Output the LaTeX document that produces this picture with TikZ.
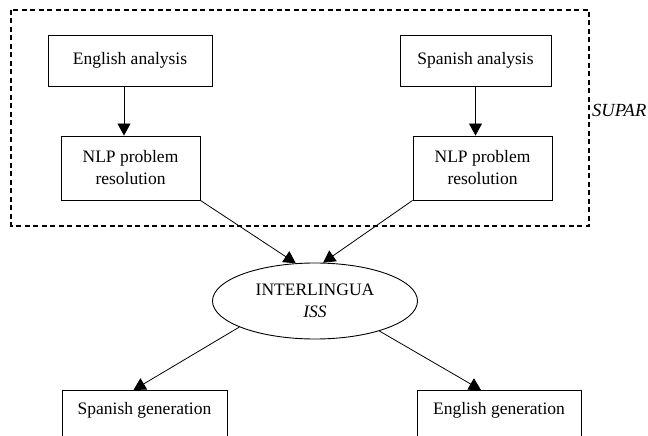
\documentclass[tikz,border=0pt]{standalone}
\usepackage{fontspec}
\setmainfont{Liberation Serif}
\usetikzlibrary{shapes.geometric,arrows.meta}
\begin{document}
\begin{tikzpicture}[x=1pt,y=1pt,
  every node/.style={font=\fontsize{17.5}{22}\selectfont},
  box/.style={draw,line width=0.9pt,inner sep=0pt,align=center},
  arr/.style={line width=0.8pt,-{Triangle[length=12pt,width=13pt]}},
  supar/.style={draw,line width=1.3pt,dash pattern=on 5pt off 3.5pt}]
\useasboundingbox (0,0) rectangle (648,436);
\clip (0,0) rectangle (648,436);
\draw[supar] (11,426) rectangle (589,210);
\node[anchor=west,inner sep=0pt,font=\fontsize{18.5}{22}\selectfont\itshape] (sup) at (592,326) {SUPAR};
\node[box,minimum width=164pt,minimum height=51pt] (EA) at (130,375.5) {English analysis};
\node[box,minimum width=139pt,minimum height=64pt] (NLPL) at (130.5,268) {NLP problem\\resolution};
\node[box,minimum width=151pt,minimum height=51pt] (SA) at (475.5,375.5) {Spanish analysis};
\node[box,minimum width=139pt,minimum height=64pt] (NLPR) at (482.5,268) {NLP problem\\resolution};
\node[ellipse,draw,line width=0.9pt,inner sep=0pt,minimum width=205pt,minimum height=76pt,align=center] (IL) at (315,135) {INTERLINGUA\\\textit{ISS}};
\node[box,anchor=north,minimum width=165pt,inner ysep=12pt,text height=12pt,text depth=40pt] (SG) at (144.5,46) {Spanish generation};
\node[box,anchor=north,minimum width=164pt,inner ysep=12pt,text height=12pt,text depth=40pt] (EG) at (499,46) {English generation};
\draw[arr] ([xshift=-6pt]EA.south) -- ([xshift=-6pt]EA.south |- NLPL.north);
\draw[arr] (SA.south) -- (SA.south |- NLPR.north);
\draw[arr] (NLPL.south east) -- (IL.117);
\draw[arr] (NLPR.south west) -- (IL.78);
\draw[arr] (IL.199) -- ([xshift=-11pt]SG.north);
\draw[arr] (IL.335) -- ([xshift=-18pt]EG.north);
\end{tikzpicture}
\end{document}
